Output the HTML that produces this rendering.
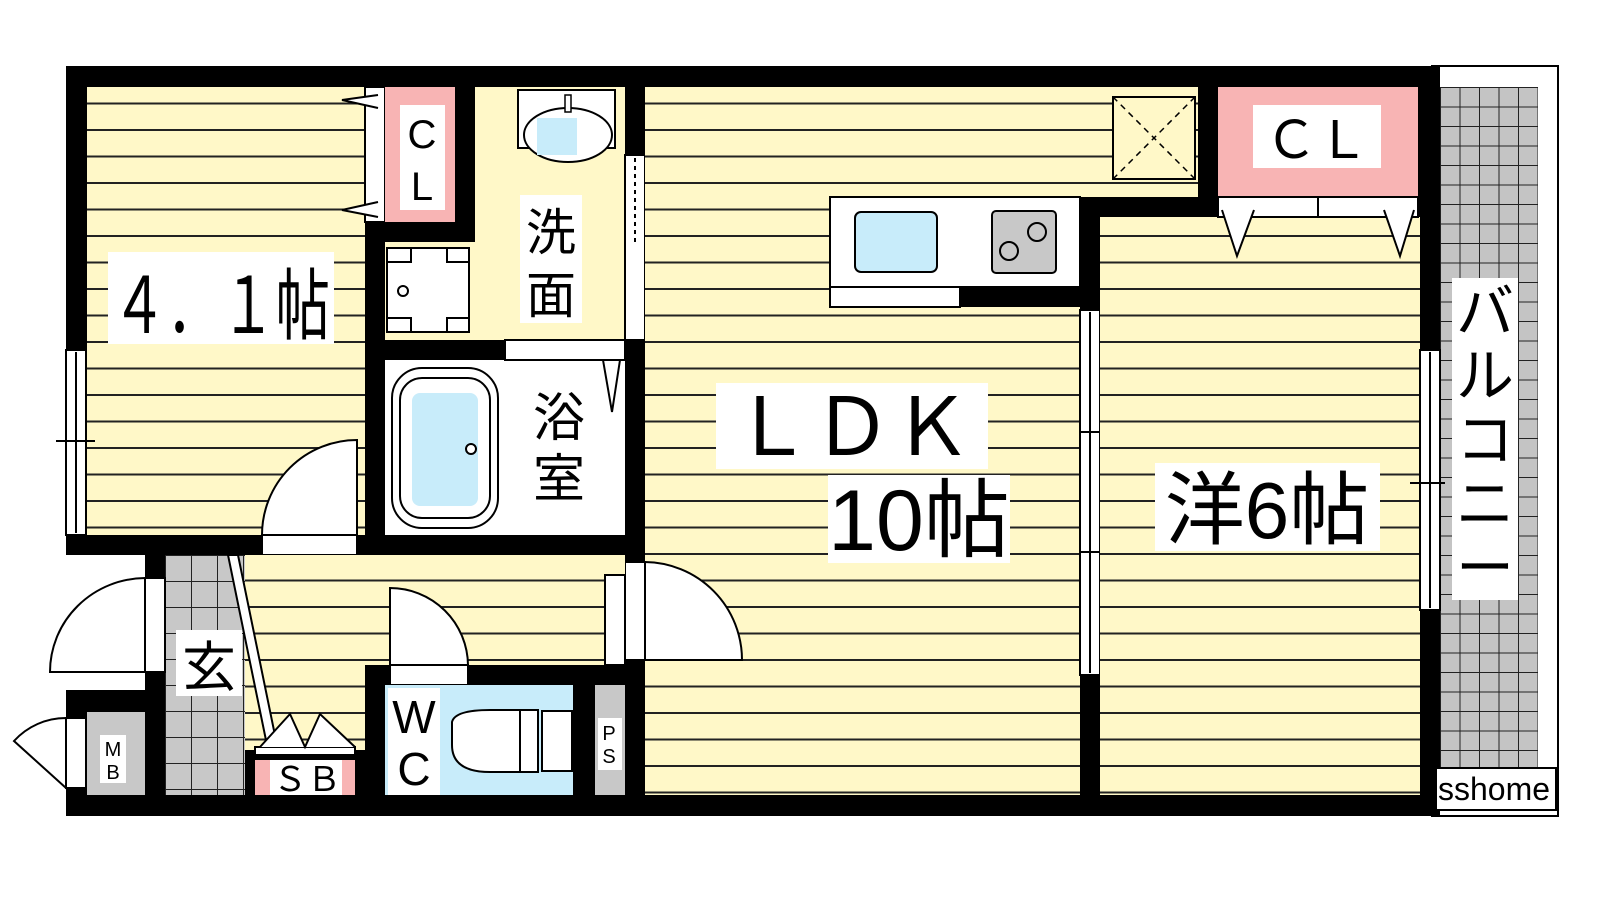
<!DOCTYPE html>
<html><head><meta charset="utf-8"><style>
html,body{margin:0;padding:0;background:#fff;}
svg{display:block}
text{font-family:"Liberation Sans","Noto Sans CJK JP",sans-serif;fill:#000}
</style></head><body>
<svg width="1600" height="900" viewBox="0 0 1600 900" xmlns="http://www.w3.org/2000/svg">
<defs>
<pattern id="st" x="0" y="78" width="40" height="26.5" patternUnits="userSpaceOnUse">
<rect width="40" height="26.5" fill="#fff8c8"/><rect y="24.5" width="40" height="2.5" fill="#222"/>
</pattern>
<pattern id="tile" x="165" y="555" width="26" height="26" patternUnits="userSpaceOnUse">
<rect width="26" height="26" fill="#c8c8c8"/><path d="M0 0H26M0 0V26" stroke="#222" stroke-width="2" fill="none"/>
</pattern>
<pattern id="bal" x="1440" y="87" width="19.5" height="19.5" patternUnits="userSpaceOnUse">
<rect width="19.5" height="19.5" fill="#c4c4c4"/><path d="M0 0H19.5M0 0V19.5" stroke="#222" stroke-width="2" fill="none"/>
</pattern>
</defs>
<rect width="1600" height="900" fill="#fff"/>
<rect x="1432" y="66" width="126" height="750" fill="#fff" stroke="#000" stroke-width="2"/>
<rect x="1440" y="87" width="98" height="708" fill="url(#bal)"/>
<rect x="66" y="66" width="1374" height="750" fill="#000"/>
<rect x="0" y="555" width="145" height="135" fill="#fff"/>
<rect x="87" y="87" width="278" height="448" fill="url(#st)"/>
<rect x="365" y="87" width="20" height="135" fill="#fff" stroke="#000" stroke-width="2"/>
<rect x="385" y="87" width="70" height="135" fill="#f8b4b4"/>
<rect x="400" y="105" width="45" height="105" fill="#fff"/>
<text x="422" y="148" font-size="40" text-anchor="middle">C</text>
<text x="422" y="200" font-size="40" text-anchor="middle">L</text>
<path d="M378 95 L342 100 L378 108 M378 202 L342 210 L378 217" stroke="#000" stroke-width="2" fill="#fff"/>
<rect x="475" y="87" width="150" height="253" fill="#fff8c8"/>
<rect x="385" y="242" width="90" height="98" fill="#fff8c8"/>
<rect x="387" y="248" width="82" height="84" fill="#fff" stroke="#000" stroke-width="2"/>
<path d="M387 262h24v-14M447 248v14h22M387 318h24v14M447 332v-14h22" stroke="#000" stroke-width="2" fill="none"/>
<circle cx="403" cy="291" r="5" fill="#fff" stroke="#000" stroke-width="2"/>
<rect x="518" y="90" width="97" height="58" fill="#fff" stroke="#000" stroke-width="2"/>
<ellipse cx="568" cy="135" rx="44" ry="27" fill="#fff" stroke="#000" stroke-width="2"/>
<rect x="537" y="118" width="40" height="37" fill="#c8ecfa"/>
<rect x="565" y="95" width="6" height="17" fill="#fff" stroke="#000" stroke-width="1.5"/>
<rect x="520" y="195" width="62" height="128" fill="#fff"/>
<text x="551" y="250" font-size="50" text-anchor="middle">洗</text>
<text x="551" y="313" font-size="50" text-anchor="middle">面</text>
<rect x="625" y="155" width="20" height="185" fill="#fff" stroke="#000" stroke-width="2"/>
<line x1="635" y1="158" x2="635" y2="245" stroke="#000" stroke-width="2" stroke-dasharray="4 4"/>
<rect x="385" y="360" width="240" height="175" fill="#fff"/>
<rect x="505" y="340" width="120" height="20" fill="#fff" stroke="#000" stroke-width="2"/>
<rect x="392" y="368" width="106" height="160" rx="30" fill="#fff" stroke="#000" stroke-width="2"/>
<rect x="400" y="378" width="90" height="140" rx="22" fill="#fff" stroke="#000" stroke-width="2"/>
<rect x="412" y="393" width="66" height="113" rx="8" fill="#c8ecfa"/>
<circle cx="471" cy="449" r="5" fill="#fff" stroke="#000" stroke-width="2"/>
<path d="M603 360 L612 412 L620 360" stroke="#000" stroke-width="2" fill="none"/>
<rect x="527" y="380" width="64" height="128" fill="#fff"/>
<text x="559" y="436" font-size="52" text-anchor="middle">浴</text>
<text x="559" y="497" font-size="52" text-anchor="middle">室</text>
<rect x="645" y="87" width="435" height="708" fill="url(#st)"/>
<rect x="1080" y="87" width="118" height="110" fill="url(#st)"/>
<rect x="1113" y="97" width="82" height="82" fill="#fff8c8" stroke="#000" stroke-width="2"/>
<path d="M1113 97L1195 179M1195 97L1113 179" stroke="#000" stroke-width="1.5" stroke-dasharray="6 5"/>
<rect x="830" y="197" width="250" height="90" fill="#fff" stroke="#000" stroke-width="2"/>
<rect x="830" y="287" width="130" height="20" fill="#fff" stroke="#000" stroke-width="2"/>
<rect x="960" y="287" width="120" height="20" fill="#000"/>
<rect x="855" y="212" width="82" height="60" rx="6" fill="#c8ecfa" stroke="#000" stroke-width="2"/>
<rect x="992" y="211" width="64" height="62" rx="4" fill="#c8c8c8" stroke="#000" stroke-width="2"/>
<circle cx="1037" cy="232" r="9" fill="none" stroke="#000" stroke-width="2"/>
<circle cx="1009" cy="251" r="9" fill="none" stroke="#000" stroke-width="2"/>
<rect x="716" y="383" width="272" height="86" fill="#fff"/>
<text x="852" y="455" font-size="80" text-anchor="middle">ＬＤＫ</text>
<rect x="828" y="475" width="182" height="88" fill="#fff"/>
<text x="919" y="550" font-size="86" text-anchor="middle">10帖</text>
<rect x="625" y="562" width="20" height="98" fill="#fff" stroke="#000" stroke-width="2"/>
<path d="M645 562 A98 98 0 0 1 742 660 L645 660Z" fill="#fff" stroke="#000" stroke-width="2"/>
<rect x="1080" y="310" width="20" height="365" fill="#fff" stroke="#000" stroke-width="2"/>
<line x1="1090" y1="312" x2="1090" y2="673" stroke="#000" stroke-width="2"/>
<path d="M1080 432h20M1080 552h20" stroke="#000" stroke-width="2"/>
<rect x="1100" y="217" width="320" height="578" fill="url(#st)"/>
<rect x="1218" y="87" width="200" height="110" fill="#f8b4b4"/>
<rect x="1253" y="105" width="128" height="63" fill="#fff"/>
<text x="1317" y="158" font-size="52" text-anchor="middle">ＣＬ</text>
<rect x="1218" y="197" width="200" height="20" fill="#fff" stroke="#000" stroke-width="2"/>
<line x1="1318" y1="197" x2="1318" y2="217" stroke="#000" stroke-width="2"/>
<path d="M1222 210 L1237 256 L1254 210 M1384 210 L1400 256 L1414 210" stroke="#000" stroke-width="2" fill="#fff"/>
<rect x="1155" y="463" width="225" height="88" fill="#fff"/>
<text x="1267" y="538" font-size="80" text-anchor="middle">洋6帖</text>
<rect x="1420" y="350" width="20" height="260" fill="#fff" stroke="#000" stroke-width="2"/>
<line x1="1430" y1="352" x2="1430" y2="608" stroke="#000" stroke-width="2"/>
<line x1="1410" y1="483" x2="1445" y2="483" stroke="#000" stroke-width="2"/>
<rect x="1452" y="278" width="66" height="322" fill="#fff"/>
<text font-size="58" text-anchor="middle"><tspan x="1485" y="332">バ</tspan><tspan x="1485" y="396">ル</tspan><tspan x="1485" y="460">コ</tspan><tspan x="1485" y="524">ニ</tspan><tspan x="1485" y="588">ー</tspan></text>
<rect x="66" y="350" width="20" height="185" fill="#fff" stroke="#000" stroke-width="2"/>
<line x1="76" y1="352" x2="76" y2="533" stroke="#000" stroke-width="2"/>
<line x1="56" y1="441" x2="95" y2="441" stroke="#000" stroke-width="2"/>
<path d="M357 440 A95 95 0 0 0 262 535 L357 535Z" fill="#fff" stroke="#000" stroke-width="2"/>
<line x1="357" y1="440" x2="357" y2="535" stroke="#000" stroke-width="2"/>
<rect x="262" y="535" width="95" height="20" fill="#fff" stroke="#000" stroke-width="2"/>
<rect x="108" y="252" width="226" height="92" fill="#fff"/>
<text x="112" y="333" font-size="78" textLength="218" lengthAdjust="spacingAndGlyphs">４．１帖</text>
<rect x="165" y="555" width="460" height="110" fill="url(#st)"/>
<rect x="245" y="665" width="120" height="85" fill="url(#st)"/>
<rect x="165" y="555" width="80" height="240" fill="url(#tile)"/>
<path d="M228 555 L238 555 L278 750 L268 750Z" fill="#fff" stroke="#000" stroke-width="2"/>
<rect x="605" y="575" width="20" height="90" fill="#fff" stroke="#000" stroke-width="2"/>
<rect x="145" y="578" width="20" height="94" fill="#fff" stroke="#000" stroke-width="2"/>
<path d="M145 578 A96 94 0 0 0 50 672 L145 672Z" fill="#fff" stroke="#000" stroke-width="2"/>
<rect x="176" y="630" width="66" height="66" fill="#fff"/>
<text x="209" y="686" font-size="54" text-anchor="middle">玄</text>
<rect x="87" y="712" width="58" height="83" fill="#c8c8c8"/>
<rect x="100" y="735" width="26" height="48" fill="#fff"/>
<text x="113" y="756" font-size="20" text-anchor="middle">M</text>
<text x="113" y="779" font-size="20" text-anchor="middle">B</text>
<rect x="66" y="718" width="20" height="70" fill="#fff" stroke="#000" stroke-width="2"/>
<path d="M66 718 A70 70 0 0 0 14 741 L66 788Z" fill="#fff" stroke="#000" stroke-width="2"/>
<rect x="245" y="750" width="110" height="45" fill="#000"/>
<rect x="255" y="760" width="100" height="35" fill="#f8b4b4"/>
<rect x="270" y="760" width="72" height="35" fill="#fff"/>
<text x="307" y="791" font-size="34" text-anchor="middle">ＳＢ</text>
<rect x="255" y="747" width="100" height="8" fill="#fff" stroke="#000" stroke-width="2"/>
<path d="M260 747 L290 714 L305 747 L320 714 L355 747" stroke="#000" stroke-width="2" fill="#fff"/>
<path d="M390 665 V588 A78 78 0 0 1 468 665 Z" fill="#fff" stroke="#000" stroke-width="2"/>
<rect x="390" y="665" width="78" height="20" fill="#fff" stroke="#000" stroke-width="2"/>
<rect x="385" y="685" width="188" height="110" fill="#c8ecfa"/>
<rect x="388" y="688" width="52" height="107" fill="#fff"/>
<text x="414" y="733" font-size="46" text-anchor="middle">W</text>
<text x="414" y="785" font-size="46" text-anchor="middle">C</text>
<path d="M452 722 Q455 710 490 710 L520 710 V772 L490 772 Q452 772 452 745Z" fill="#fff" stroke="#000" stroke-width="2"/>
<rect x="520" y="710" width="18" height="62" fill="#fff" stroke="#000" stroke-width="2"/>
<rect x="542" y="711" width="30" height="60" fill="#fff" stroke="#000" stroke-width="2"/>
<rect x="595" y="685" width="30" height="110" fill="#c8c8c8"/>
<rect x="598" y="718" width="24" height="52" fill="#fff"/>
<text x="609" y="740" font-size="20" text-anchor="middle">P</text>
<text x="609" y="763" font-size="20" text-anchor="middle">S</text>
<rect x="1436" y="768" width="120" height="42" fill="#fff" stroke="#000" stroke-width="2"/>
<text x="1494" y="800" font-size="32" text-anchor="middle" textLength="112" lengthAdjust="spacingAndGlyphs">sshome</text>
</svg>
</body></html>
